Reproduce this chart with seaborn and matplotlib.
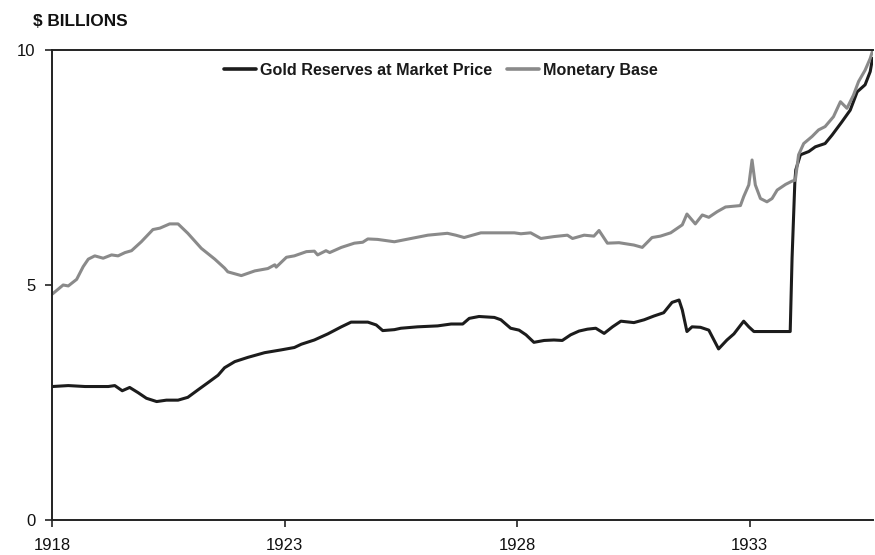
import matplotlib
matplotlib.use("Agg")
import matplotlib.pyplot as plt
import seaborn as sns
import pandas as pd

# ---- data (decimal years, $ billions) ----
base_years = [1918.01, 1918.24, 1918.35, 1918.53, 1918.67, 1918.78, 1918.92, 1919.10, 1919.28, 1919.42,
              1919.57, 1919.71, 1919.92, 1920.17, 1920.32, 1920.53, 1920.71, 1920.92, 1921.21, 1921.50,
              1921.71, 1921.78, 1922.07, 1922.36, 1922.64, 1922.79, 1922.82, 1923.04, 1923.21, 1923.47,
              1923.64, 1923.71, 1923.89, 1923.97, 1924.22, 1924.50, 1924.68, 1924.79, 1925.00, 1925.36,
              1925.72, 1926.08, 1926.50, 1926.68, 1926.86, 1927.22, 1927.58, 1927.94, 1928.08, 1928.29,
              1928.51, 1928.79, 1929.08, 1929.19, 1929.44, 1929.65, 1929.76, 1929.94, 1930.19, 1930.51,
              1930.69, 1930.90, 1931.08, 1931.30, 1931.55, 1931.65, 1931.83, 1931.98, 1932.12, 1932.30,
              1932.48, 1932.80, 1932.87, 1932.98, 1933.05, 1933.12, 1933.23, 1933.37, 1933.48, 1933.59,
              1933.77, 1933.91, 1933.98, 1934.05, 1934.16, 1934.34, 1934.48, 1934.62, 1934.80, 1934.95,
              1935.09, 1935.23, 1935.34, 1935.48, 1935.59, 1935.64]
monetary_base = [4.81, 5.00, 4.98, 5.12, 5.39, 5.55, 5.62, 5.57, 5.64, 5.62,
                 5.69, 5.73, 5.92, 6.18, 6.21, 6.30, 6.30, 6.10, 5.78, 5.55,
                 5.36, 5.28, 5.20, 5.30, 5.35, 5.43, 5.38, 5.59, 5.62, 5.71,
                 5.72, 5.64, 5.73, 5.69, 5.80, 5.89, 5.91, 5.98, 5.97, 5.92,
                 5.99, 6.06, 6.10, 6.06, 6.01, 6.11, 6.11, 6.11, 6.09, 6.11,
                 5.99, 6.03, 6.06, 5.99, 6.06, 6.04, 6.16, 5.89, 5.90, 5.85,
                 5.80, 6.01, 6.04, 6.11, 6.28, 6.51, 6.30, 6.49, 6.44, 6.56,
                 6.66, 6.69, 6.88, 7.13, 7.66, 7.13, 6.84, 6.77, 6.84, 7.02,
                 7.14, 7.21, 7.23, 7.77, 8.01, 8.16, 8.30, 8.37, 8.58, 8.90,
                 8.76, 9.04, 9.33, 9.57, 9.82, 9.98]

gold_years = [1918.01, 1918.35, 1918.71, 1919.21, 1919.35, 1919.51, 1919.67, 1919.85, 1920.03, 1920.25,
              1920.46, 1920.71, 1920.92, 1921.14, 1921.35, 1921.57, 1921.71, 1921.93, 1922.21, 1922.57,
              1922.93, 1923.21, 1923.36, 1923.64, 1923.93, 1924.22, 1924.43, 1924.79, 1924.97, 1925.11,
              1925.36, 1925.50, 1925.86, 1926.29, 1926.58, 1926.83, 1926.97, 1927.18, 1927.51, 1927.65,
              1927.86, 1928.04, 1928.19, 1928.36, 1928.58, 1928.79, 1928.97, 1929.15, 1929.33, 1929.51,
              1929.69, 1929.87, 1930.05, 1930.23, 1930.51, 1930.73, 1930.94, 1931.15, 1931.33, 1931.48,
              1931.55, 1931.65, 1931.76, 1931.94, 1932.12, 1932.33, 1932.51, 1932.66, 1932.87, 1932.98,
              1933.09, 1933.41, 1933.87, 1933.91, 1933.97, 1933.99, 1934.09, 1934.27, 1934.41, 1934.62,
              1934.77, 1934.98, 1935.16, 1935.31, 1935.48, 1935.59, 1935.64]
gold_reserves = [2.84, 2.86, 2.84, 2.84, 2.86, 2.75, 2.82, 2.71, 2.59, 2.52,
                 2.55, 2.55, 2.61, 2.77, 2.92, 3.08, 3.24, 3.37, 3.46, 3.56,
                 3.62, 3.67, 3.74, 3.83, 3.96, 4.11, 4.21, 4.21, 4.15, 4.03,
                 4.05, 4.08, 4.11, 4.13, 4.17, 4.17, 4.29, 4.33, 4.31, 4.26,
                 4.08, 4.04, 3.94, 3.78, 3.82, 3.83, 3.82, 3.94, 4.02, 4.06,
                 4.08, 3.97, 4.11, 4.23, 4.20, 4.26, 4.34, 4.41, 4.63, 4.68,
                 4.47, 4.01, 4.11, 4.10, 4.04, 3.64, 3.83, 3.96, 4.23, 4.11,
                 4.01, 4.01, 4.01, 5.57, 7.20, 7.45, 7.77, 7.84, 7.94, 8.01,
                 8.19, 8.47, 8.72, 9.11, 9.26, 9.54, 9.82]

x_ticks = [1918, 1923, 1928, 1933]
y_ticks = [0, 5, 10]
series_names = ["Gold Reserves at Market Price", "Monetary Base"]

df = pd.concat([
    pd.DataFrame({"year": gold_years, "value": gold_reserves, "series": series_names[0]}),
    pd.DataFrame({"year": base_years, "value": monetary_base, "series": series_names[1]}),
], ignore_index=True)

sns.set_style("ticks")
plt.rcParams["font.family"] = ["Liberation Sans", "DejaVu Sans"]

fig = plt.figure(figsize=(8.75, 5.55), dpi=100)
ax = fig.add_axes([52 / 875, 1 - 520 / 555, 821 / 875, 470 / 555])

sns.lineplot(data=df, x="year", y="value", hue="series", hue_order=series_names,
             palette={series_names[0]: "#1c1c1c", series_names[1]: "#8a8a8a"},
             linewidth=2.2, ax=ax, sort=False, estimator=None)

ax.set_xlim(1918, 1935.65)
ax.set_ylim(0, 10)
ax.set_xticks(x_ticks)
ax.set_xticklabels([str(t) for t in x_ticks])
ax.set_yticks(y_ticks)
ax.set_xlabel("")
ax.set_ylabel("")

for s in ["left", "bottom", "top"]:
    ax.spines[s].set_color("#222222")
    ax.spines[s].set_linewidth(1.4)
ax.spines["right"].set_visible(False)

ax.tick_params(axis="both", direction="out", length=5, width=1.2, color="#222222",
               labelsize=12, labelcolor="#111111")
ax.tick_params(axis="x", pad=8)
ax.tick_params(axis="y", pad=7)

leg = ax.legend(loc="upper center", bbox_to_anchor=(0.474, 1.003), ncol=2, frameon=False,
                prop={"size": 11.6, "weight": "bold"}, handlelength=2.0, columnspacing=0.9,
                handletextpad=0.25)
for line in leg.get_lines():
    line.set_linewidth(2.6)
for t in leg.get_texts():
    t.set_color("#1a1a1a")

fig.text(33 / 875, 1 - 22 / 555, "$ BILLIONS", fontsize=12.4, fontweight="bold", color="#111111",
         ha="left", va="center")

fig.savefig("out.png", dpi=100)
